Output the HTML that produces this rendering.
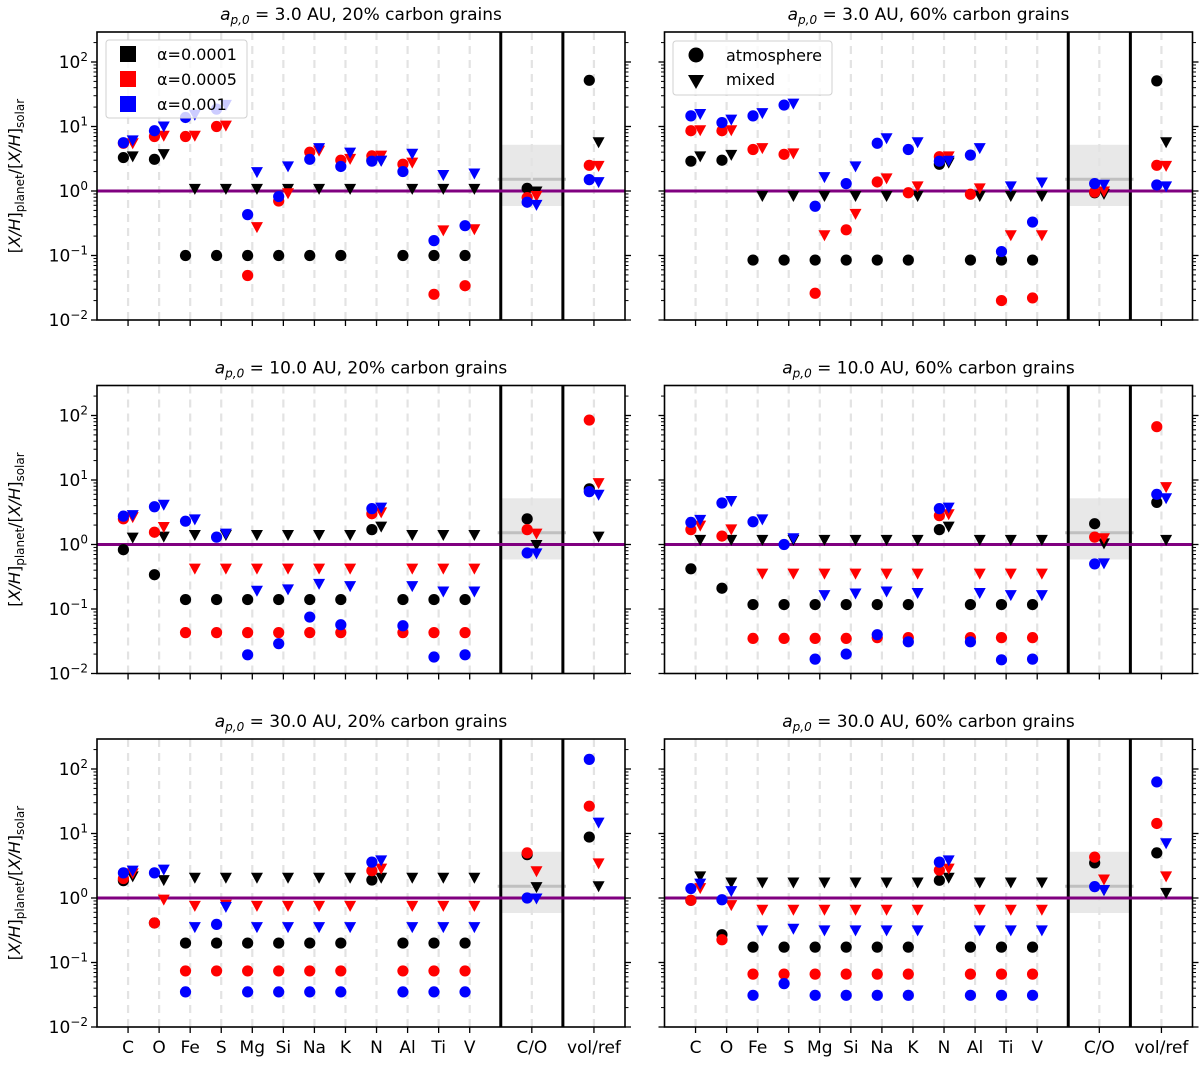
<!DOCTYPE html>
<html><head><meta charset="utf-8"><style>
html,body{margin:0;padding:0;background:#fff;}
svg{display:block;font-family:"DejaVu Sans","Liberation Sans",sans-serif;}
</style></head><body>
<svg id="fig" width="1200" height="1065" viewBox="0 0 1200 1065" xmlns="http://www.w3.org/2000/svg"></svg>
<script>
const categories = ["C","O","Fe","S","Mg","Si","Na","K","N","Al","Ti","V","C/O","vol/ref"];
const yTickLabels = ["-2","-1","0","1","2"];
const panelTitles = [["3.0","20%"],["3.0","60%"],["10.0","20%"],["10.0","60%"],["30.0","20%"],["30.0","60%"]];
const alphaLabels = ["α=0.0001","α=0.0005","α=0.001"];

const p1_atm_a1 = [3.3,3.1,0.1,0.1,0.1,0.1,0.1,0.1,3.0,0.1,0.1,0.1,1.1,52];
const p1_mix_a1 = [3.5,3.8,1.1,1.1,1.1,1.1,1.1,1.1,3.0,1.1,1.1,1.1,1.0,5.8];
const p1_atm_a5 = [5.5,7.0,7.0,10,0.049,0.70,4.0,3.0,3.5,2.6,0.025,0.034,0.79,2.5];
const p1_mix_a5 = [5.6,7.3,7.3,10.5,0.28,0.94,4.3,3.2,3.6,2.8,0.25,0.26,0.85,2.5];
const p1_atm_a10 = [5.6,8.6,13.8,18.6,0.43,0.82,3.1,2.4,2.9,2.0,0.17,0.29,0.67,1.5];
const p1_mix_a10 = [6.2,10.2,15.5,22,2.0,2.45,4.7,4.0,3.0,3.85,1.8,1.9,0.62,1.4];

const p2_atm_a1 = [2.9,3.0,0.085,0.085,0.085,0.085,0.085,0.085,2.6,0.085,0.085,0.085,0.94,51];
const p2_mix_a1 = [3.5,3.7,0.85,0.85,0.85,0.85,0.85,0.85,2.8,0.85,0.85,0.85,0.92,5.8];
const p2_atm_a5 = [8.6,8.6,4.4,3.7,0.026,0.25,1.38,0.94,3.4,0.89,0.02,0.022,0.96,2.5];
const p2_mix_a5 = [8.9,8.9,4.7,3.9,0.21,0.45,1.6,1.2,3.5,1.12,0.21,0.21,1.0,2.5];
const p2_atm_a10 = [14.6,11.5,14.6,21.5,0.58,1.3,5.5,4.4,2.9,3.6,0.115,0.33,1.3,1.24];
const p2_mix_a10 = [15.9,13,16.4,23,1.67,2.45,6.7,5.8,3.0,4.7,1.2,1.38,1.27,1.2];

const p3_atm_a1 = [0.83,0.34,0.14,0.14,0.14,0.14,0.14,0.14,1.7,0.14,0.14,0.14,2.5,7.3];
const p3_mix_a1 = [1.3,1.35,1.43,1.43,1.43,1.43,1.43,1.43,1.93,1.43,1.43,1.43,1.0,1.35];
const p3_atm_a5 = [2.5,1.55,0.043,0.043,0.043,0.043,0.043,0.043,3.0,0.043,0.043,0.043,1.7,85];
const p3_mix_a5 = [2.7,1.9,0.43,0.43,0.43,0.43,0.43,0.43,3.2,0.43,0.43,0.43,1.5,9.1];
const p3_atm_a10 = [2.75,3.85,2.3,1.3,0.0195,0.029,0.075,0.057,3.6,0.055,0.018,0.0195,0.74,6.6];
const p3_mix_a10 = [2.9,4.2,2.5,1.5,0.195,0.205,0.25,0.23,3.8,0.23,0.19,0.19,0.74,6.0];

const p4_atm_a1 = [0.42,0.21,0.117,0.117,0.117,0.117,0.117,0.117,1.7,0.117,0.117,0.117,2.1,4.5];
const p4_mix_a1 = [1.2,1.2,1.2,1.2,1.2,1.2,1.2,1.2,1.93,1.2,1.2,1.2,1.06,1.2];
const p4_atm_a5 = [1.7,1.35,0.035,0.035,0.035,0.035,0.036,0.036,2.8,0.036,0.036,0.036,1.3,67];
const p4_mix_a5 = [2.0,1.75,0.36,0.36,0.36,0.36,0.36,0.36,3.0,0.36,0.36,0.36,1.27,7.9];
const p4_atm_a10 = [2.2,4.4,2.25,1.0,0.0167,0.02,0.04,0.031,3.6,0.031,0.0163,0.0167,0.5,6.0];
const p4_mix_a10 = [2.45,4.8,2.5,1.27,0.167,0.177,0.19,0.18,3.8,0.18,0.167,0.167,0.52,5.3];

const p5_atm_a1 = [1.86,0.41,0.2,0.2,0.2,0.2,0.2,0.2,1.9,0.2,0.2,0.2,4.7,8.8];
const p5_mix_a1 = [2.2,1.93,2.1,2.1,2.1,2.1,2.1,2.1,2.1,2.1,2.1,2.1,1.5,1.55];
const p5_atm_a5 = [2.0,0.41,0.074,0.074,0.074,0.074,0.074,0.074,2.65,0.074,0.074,0.074,5.0,26.5];
const p5_mix_a5 = [2.45,0.96,0.77,0.8,0.77,0.77,0.77,0.77,2.9,0.77,0.77,0.77,2.65,3.5];
const p5_atm_a10 = [2.45,2.45,0.035,0.39,0.035,0.035,0.035,0.035,3.6,0.035,0.035,0.035,1.0,141];
const p5_mix_a10 = [2.7,2.8,0.36,0.74,0.36,0.36,0.36,0.36,3.9,0.36,0.36,0.36,1.0,15];

const p6_atm_a1 = [0.92,0.27,0.173,0.173,0.173,0.173,0.173,0.173,1.88,0.173,0.173,0.173,3.5,5.0];
const p6_mix_a1 = [2.2,1.77,1.77,1.77,1.77,1.77,1.77,1.77,2.1,1.77,1.77,1.77,1.35,1.22];
const p6_atm_a5 = [0.92,0.225,0.066,0.066,0.066,0.066,0.066,0.066,2.7,0.066,0.066,0.066,4.3,14.3];
const p6_mix_a5 = [1.45,0.79,0.67,0.67,0.67,0.67,0.67,0.67,2.9,0.67,0.67,0.67,1.97,2.2];
const p6_atm_a10 = [1.4,0.94,0.031,0.047,0.031,0.031,0.031,0.031,3.6,0.031,0.031,0.031,1.5,63];
const p6_mix_a10 = [1.7,1.3,0.32,0.34,0.32,0.32,0.32,0.32,3.9,0.32,0.32,0.32,1.35,7.2];

const panelData = [
 [p1_atm_a1,p1_mix_a1,p1_atm_a5,p1_mix_a5,p1_atm_a10,p1_mix_a10],
 [p2_atm_a1,p2_mix_a1,p2_atm_a5,p2_mix_a5,p2_atm_a10,p2_mix_a10],
 [p3_atm_a1,p3_mix_a1,p3_atm_a5,p3_mix_a5,p3_atm_a10,p3_mix_a10],
 [p4_atm_a1,p4_mix_a1,p4_atm_a5,p4_mix_a5,p4_atm_a10,p4_mix_a10],
 [p5_atm_a1,p5_mix_a1,p5_atm_a5,p5_mix_a5,p5_atm_a10,p5_mix_a10],
 [p6_atm_a1,p6_mix_a1,p6_atm_a5,p6_mix_a5,p6_atm_a10,p6_mix_a10]
];
const colors = ["#000000","#ff0000","#0000ff"];

const NS = "http://www.w3.org/2000/svg";
const svg = document.getElementById("fig");
function mk(tag, attrs, parent, text){
  const e = document.createElementNS(NS, tag);
  for (const k in attrs) e.setAttribute(k, attrs[k]);
  if (text !== undefined) e.textContent = text;
  (parent||svg).appendChild(e);
  return e;
}
function catPos(i){ return i < 12 ? i : (i === 12 ? 13 : 15); }
const PW = 528, PH = 288;
const LOGMIN = -2, LOGMAX = 2.465;
const XMIN = -1, XMAX = 16;
const lefts = [97, 664.5];
const tops = [32, 385.5, 739];

for (let p = 0; p < 6; p++) {
  const col = p % 2, row = Math.floor(p / 2);
  const L = lefts[col], T = tops[row];
  const xs = i => L + (i - XMIN) / (XMAX - XMIN) * PW;
  const ys = v => T + PH - (Math.log10(v) - LOGMIN) / (LOGMAX - LOGMIN) * PH;
  const g = mk("g", {});
  
  
  const clipId = "clip" + p;
  const cp = mk("clipPath", {id: clipId}, g);
  mk("rect", {x: L, y: T, width: PW, height: PH}, cp);

  const t = panelTitles[p];
  const title = mk("text", {x: L + PW/2, y: T - 12, "text-anchor": "middle", "font-size": "17"}, g);
  
  
  mk("tspan", {"font-style": "italic"}, title, "a");
  mk("tspan", {"font-style": "italic", "font-size": "12", dy: "4"}, title, "p,0");
  mk("tspan", {dy: "-4"}, title, " = " + t[0] + " AU, " + t[1] + " carbon grains");

  const inner = mk("g", {"clip-path": "url(#" + clipId + ")"}, g);
  const band = mk("rect", {x: xs(12), y: ys(5.2), width: xs(14) - xs(12), height: ys(0.585) - ys(5.2), fill: "#e8e8e8"}, inner);
  
  
  mk("line", {x1: xs(11.9), x2: xs(14.1), y1: ys(1.52), y2: ys(1.52), stroke: "#c0c0c0", "stroke-width": "3"}, inner);

  categories.forEach((c, i) => {
    const xi = catPos(i);
    mk("line", {x1: xs(xi), x2: xs(xi), y1: T, y2: T + PH, stroke: "#e3e3e3", "stroke-width": "2.2", "stroke-dasharray": "8,6"}, inner);
  });
  [12, 14].forEach(s => {
    const sl = mk("line", {x1: xs(s), x2: xs(s), y1: T, y2: T + PH, stroke: "#000", "stroke-width": "3"}, inner);
    
    
  });
  const pl = mk("line", {x1: L, x2: L + PW, y1: ys(1), y2: ys(1), stroke: "#800080", "stroke-width": "3"}, inner);
  
  

  const sets = panelData[p];
  for (let a = 0; a < 3; a++) {
    for (let k = 0; k < 2; k++) {
      const arr = sets[a*2 + k];
      arr.forEach((v, i) => {
        const xi = catPos(i) + (k === 0 ? -0.15 : 0.15);
        const cx = xs(xi), cy = ys(v);
        let m;
        if (k === 0) {
          m = mk("circle", {cx: cx, cy: cy, r: 5.6, fill: colors[a]}, inner);
          
        } else {
          m = mk("polygon", {points: (cx-6)+","+(cy-4.5)+" "+(cx+6)+","+(cy-4.5)+" "+cx+","+(cy+6.5), fill: colors[a]}, inner);
          
        }
        
      });
    }
  }

  mk("rect", {x: L, y: T, width: PW, height: PH, fill: "none", stroke: "#000", "stroke-width": "1.6"}, g);

  for (let d = -2; d <= 2; d++) {
    for (let m = 1; m <= 9; m++) {
      const v = m * Math.pow(10, d);
      const lv = Math.log10(v);
      if (lv > LOGMAX) continue;
      const yy = ys(v), len = m === 1 ? 6 : 3.5;
      mk("line", {x1: L - len, x2: L, y1: yy, y2: yy, stroke: "#000", "stroke-width": m===1?1.3:1}, g);
      mk("line", {x1: L + PW, x2: L + PW + len, y1: yy, y2: yy, stroke: "#000", "stroke-width": m===1?1.3:1}, g);
    }
  }
  if (col === 0) {
    yTickLabels.forEach(lab => {
      const yy = ys(Math.pow(10, +lab));
      const tl = mk("text", {x: L - 9, y: yy + 6, "text-anchor": "end", "font-size": "17"}, g);
      
      
      mk("tspan", {}, tl, "10");
      mk("tspan", {dy: "-7", "font-size": "12"}, tl, lab.replace("-", "\u2212"));
    });
    const yt = mk("text", {transform: "translate(20," + (T + PH/2) + ") rotate(-90)", "text-anchor": "middle", "font-size": "16"}, g);
    
    
    mk("tspan", {}, yt, "[");
    mk("tspan", {"font-style": "italic"}, yt, "X/H");
    mk("tspan", {}, yt, "]");
    mk("tspan", {"font-size": "12", dy: "4"}, yt, "planet");
    mk("tspan", {dy: "-4"}, yt, "/[");
    mk("tspan", {"font-style": "italic"}, yt, "X/H");
    mk("tspan", {}, yt, "]");
    mk("tspan", {"font-size": "12", dy: "4"}, yt, "solar");
  }
  categories.forEach((c, i) => {
    const xi = catPos(i);
    mk("line", {x1: xs(xi), x2: xs(xi), y1: T + PH, y2: T + PH + 6, stroke: "#000", "stroke-width": "1.3"}, g);
    if (row === 2) {
      const xl = mk("text", {x: xs(xi), y: T + PH + 26, "text-anchor": "middle", "font-size": "17"}, g, c);
      
      
    }
  });

  if (p === 0) {
    const lg = mk("g", {}, g);
    
    
    mk("rect", {x: 106, y: 40, width: 141, height: 78, rx: 3, fill: "rgba(255,255,255,0.8)", stroke: "#d0d0d0", "stroke-width": "1"}, lg);
    alphaLabels.forEach((lab, a) => {
      const yy = 54 + a * 25;
      const it = mk("g", {}, lg);
      
      
      mk("rect", {x: 120, y: yy - 8, width: 16, height: 16, fill: colors[a]}, it);
      mk("text", {x: 157, y: yy + 6, "font-size": "16"}, it, lab);
    });
  }
  if (p === 1) {
    const lg = mk("g", {}, g);
    
    
    mk("rect", {x: 673, y: 41, width: 159, height: 54, rx: 3, fill: "rgba(255,255,255,0.8)", stroke: "#d0d0d0", "stroke-width": "1"}, lg);
    const e1 = mk("g", {}, lg);
    
    
    mk("circle", {cx: 696, cy: 55, r: 7.5, fill: "#000"}, e1);
    mk("text", {x: 726, y: 61, "font-size": "16"}, e1, "atmosphere");
    const e2 = mk("g", {}, lg);
    
    
    mk("polygon", {points: "688,75 704,75 696,89", fill: "#000"}, e2);
    mk("text", {x: 726, y: 85, "font-size": "16"}, e2, "mixed");
  }
}
</script>
</body></html>
